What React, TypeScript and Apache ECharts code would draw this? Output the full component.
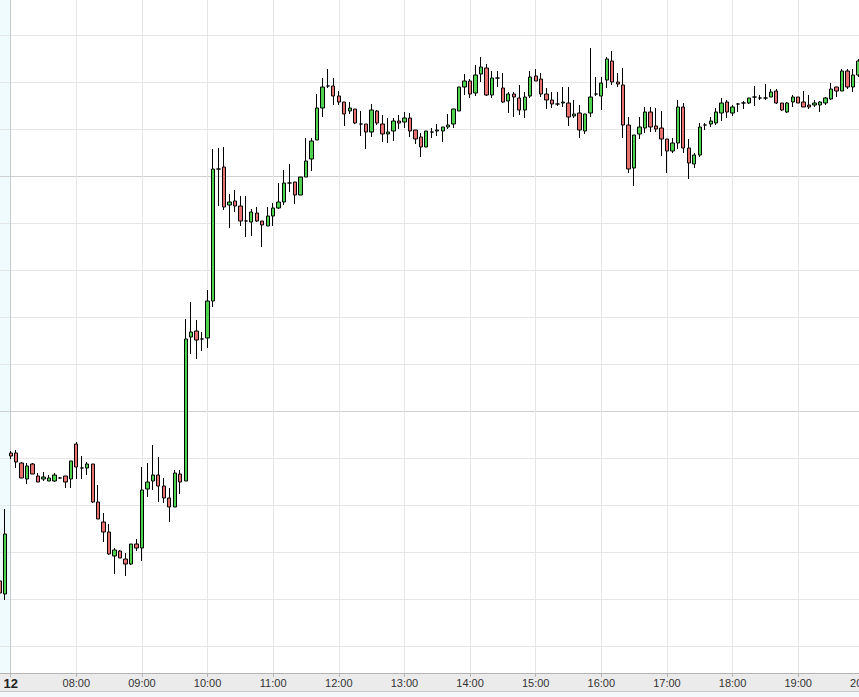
import { useEffect, useRef } from "react"
import * as echarts from "echarts"

// 5-minute candles: [time, open, close, low, high]
const prevSession: [string, number, number, number, number][] = [
  ["06:50", 41.9, 40.7, 40.5, 42.1],
  ["06:55", 40.6, 46.6, 40.0, 49.1],
]

const candles: [string, number, number, number, number][] = [
  ["07:00", 54.7, 54.4, 54.1, 54.9],
  ["07:05", 54.7, 53.8, 53.2, 55.0],
  ["07:10", 53.7, 52.2, 52.2, 53.8],
  ["07:15", 52.1, 53.4, 51.6, 53.7],
  ["07:20", 53.6, 52.6, 52.6, 53.7],
  ["07:25", 52.4, 51.8, 51.8, 52.7],
  ["07:30", 52.1, 52.3, 51.9, 52.8],
  ["07:35", 51.9, 52.2, 51.9, 52.5],
  ["07:40", 51.9, 52.5, 51.8, 52.7],
  ["07:45", 52.2, 52.2, 52.2, 52.3],
  ["07:50", 52.4, 51.8, 51.2, 52.4],
  ["07:55", 52.1, 53.9, 51.2, 53.9],
  ["08:00", 55.6, 53.3, 52.1, 55.8],
  ["08:05", 53.2, 53.2, 52.1, 54.4],
  ["08:10", 53.2, 53.6, 52.5, 53.8],
  ["08:15", 53.6, 49.8, 49.7, 53.6],
  ["08:20", 49.8, 48.1, 48.1, 51.5],
  ["08:25", 47.8, 46.8, 45.8, 48.7],
  ["08:30", 46.8, 44.6, 44.5, 47.6],
  ["08:35", 44.4, 45.0, 42.6, 45.2],
  ["08:40", 44.9, 44.2, 44.2, 45.0],
  ["08:45", 44.1, 43.6, 42.4, 44.7],
  ["08:50", 43.6, 45.6, 43.5, 45.6],
  ["08:55", 45.6, 45.2, 44.9, 46.1],
  ["09:00", 45.2, 51.0, 43.9, 53.3],
  ["09:05", 51.1, 51.8, 50.3, 53.7],
  ["09:10", 51.9, 52.5, 51.0, 55.5],
  ["09:15", 52.5, 51.4, 49.8, 54.3],
  ["09:20", 51.4, 50.2, 49.7, 52.2],
  ["09:25", 50.2, 49.3, 47.8, 51.2],
  ["09:30", 49.3, 52.7, 49.3, 53.0],
  ["09:35", 52.6, 51.8, 50.6, 53.0],
  ["09:40", 51.9, 66.1, 51.9, 68.1],
  ["09:45", 66.3, 66.8, 64.6, 69.8],
  ["09:50", 66.9, 66.0, 64.1, 68.0],
  ["09:55", 66.1, 66.1, 64.9, 66.8],
  ["10:00", 66.2, 69.9, 65.2, 71.0],
  ["10:05", 69.9, 83.1, 69.3, 85.1],
  ["10:10", 83.1, 83.1, 79.4, 85.2],
  ["10:15", 83.3, 79.3, 79.0, 85.3],
  ["10:20", 79.5, 79.8, 77.2, 80.6],
  ["10:25", 79.9, 79.4, 78.8, 81.0],
  ["10:30", 79.4, 77.9, 77.4, 80.4],
  ["10:35", 77.9, 77.9, 76.3, 80.4],
  ["10:40", 77.8, 78.8, 76.4, 79.1],
  ["10:45", 78.7, 77.9, 77.8, 79.3],
  ["10:50", 77.9, 77.5, 75.3, 77.9],
  ["10:55", 77.4, 78.4, 77.4, 79.3],
  ["11:00", 78.4, 79.2, 77.4, 79.7],
  ["11:05", 79.2, 79.8, 79.1, 81.7],
  ["11:10", 79.8, 81.7, 79.5, 83.0],
  ["11:15", 81.7, 81.7, 80.8, 83.6],
  ["11:20", 81.8, 80.5, 79.6, 81.8],
  ["11:25", 80.5, 82.3, 80.5, 82.3],
  ["11:30", 82.3, 83.9, 82.3, 86.2],
  ["11:35", 84.1, 85.9, 82.9, 86.2],
  ["11:40", 86.0, 89.2, 86.0, 90.6],
  ["11:45", 89.2, 91.3, 88.3, 92.2],
  ["11:50", 91.4, 91.4, 91.2, 93.1],
  ["11:55", 91.4, 90.4, 89.5, 92.2],
  ["12:00", 90.4, 89.8, 89.5, 90.9],
  ["12:05", 89.8, 88.6, 87.4, 89.8],
  ["12:10", 88.9, 89.2, 88.6, 89.8],
  ["12:15", 89.1, 87.7, 87.6, 89.1],
  ["12:20", 87.6, 87.6, 86.4, 88.9],
  ["12:25", 87.6, 86.8, 85.1, 87.6],
  ["12:30", 86.8, 89.0, 86.3, 89.6],
  ["12:35", 88.9, 87.7, 87.5, 89.0],
  ["12:40", 87.6, 86.6, 85.8, 88.5],
  ["12:45", 86.6, 86.8, 85.7, 88.2],
  ["12:50", 86.9, 87.9, 85.9, 88.2],
  ["12:55", 87.9, 87.7, 87.1, 88.5],
  ["13:00", 87.8, 88.2, 87.2, 88.8],
  ["13:05", 88.2, 86.9, 86.3, 88.7],
  ["13:10", 87.0, 86.1, 85.6, 87.0],
  ["13:15", 86.3, 85.3, 84.3, 86.7],
  ["13:20", 85.3, 86.9, 85.3, 86.9],
  ["13:25", 86.8, 86.8, 86.2, 87.2],
  ["13:30", 86.9, 87.0, 86.4, 87.6],
  ["13:35", 86.9, 87.3, 85.8, 87.3],
  ["13:40", 87.3, 87.5, 87.1, 88.6],
  ["13:45", 87.6, 89.1, 87.2, 89.1],
  ["13:50", 88.9, 91.3, 88.9, 91.3],
  ["13:55", 91.3, 91.9, 90.5, 92.6],
  ["14:00", 91.9, 90.6, 90.2, 92.1],
  ["14:05", 90.7, 92.5, 90.4, 93.5],
  ["14:10", 92.6, 93.3, 91.8, 94.3],
  ["14:15", 93.2, 90.5, 90.4, 93.6],
  ["14:20", 90.5, 92.2, 90.2, 92.9],
  ["14:25", 92.2, 92.2, 91.3, 92.9],
  ["14:30", 91.2, 89.8, 89.7, 92.7],
  ["14:35", 89.9, 90.6, 88.7, 90.8],
  ["14:40", 90.6, 90.3, 88.3, 90.8],
  ["14:45", 90.2, 89.0, 88.5, 91.5],
  ["14:50", 89.0, 90.3, 88.2, 90.8],
  ["14:55", 90.4, 92.3, 90.2, 92.9],
  ["15:00", 92.4, 91.9, 91.9, 93.1],
  ["15:05", 92.1, 90.6, 90.3, 92.7],
  ["15:10", 90.6, 90.0, 89.1, 91.2],
  ["15:15", 90.0, 89.6, 89.2, 90.8],
  ["15:20", 89.6, 89.6, 89.4, 90.8],
  ["15:25", 89.7, 89.8, 89.3, 91.3],
  ["15:30", 89.7, 88.3, 87.4, 91.3],
  ["15:35", 88.4, 88.6, 88.2, 90.0],
  ["15:40", 88.7, 87.0, 86.2, 89.5],
  ["15:45", 86.9, 88.6, 86.6, 88.6],
  ["15:50", 88.7, 90.3, 88.3, 95.2],
  ["15:55", 90.6, 90.6, 90.4, 92.3],
  ["16:00", 90.4, 91.7, 89.0, 92.3],
  ["16:05", 92.0, 94.1, 91.2, 94.3],
  ["16:10", 93.9, 91.8, 91.5, 94.9],
  ["16:15", 91.8, 91.6, 91.3, 92.7],
  ["16:20", 91.5, 87.5, 86.2, 93.2],
  ["16:25", 87.5, 83.1, 82.7, 88.3],
  ["16:30", 83.2, 86.5, 81.4, 86.5],
  ["16:35", 86.6, 87.3, 86.1, 88.3],
  ["16:40", 87.2, 88.8, 86.7, 89.3],
  ["16:45", 88.8, 87.3, 86.8, 89.3],
  ["16:50", 87.4, 87.1, 86.8, 89.2],
  ["16:55", 87.2, 86.1, 84.4, 88.9],
  ["17:00", 86.1, 84.9, 82.7, 86.1],
  ["17:05", 84.9, 85.7, 84.7, 86.2],
  ["17:10", 85.7, 89.3, 85.1, 90.0],
  ["17:15", 89.3, 85.2, 84.7, 89.7],
  ["17:20", 85.2, 83.7, 82.1, 86.1],
  ["17:25", 83.6, 84.5, 83.2, 84.7],
  ["17:30", 84.5, 87.3, 84.3, 87.7],
  ["17:35", 87.5, 87.5, 87.0, 87.7],
  ["17:40", 87.6, 87.9, 87.3, 88.3],
  ["17:45", 87.7, 88.8, 87.5, 89.2],
  ["17:50", 88.7, 89.7, 87.9, 90.2],
  ["17:55", 89.8, 88.8, 88.2, 90.0],
  ["18:00", 88.7, 89.3, 88.4, 89.5],
  ["18:05", 89.6, 89.6, 88.8, 89.7],
  ["18:10", 89.7, 89.7, 89.1, 89.9],
  ["18:15", 89.7, 90.2, 89.6, 90.2],
  ["18:20", 90.3, 90.3, 89.4, 91.4],
  ["18:25", 90.2, 90.2, 90.0, 90.5],
  ["18:30", 90.2, 90.2, 90.0, 91.6],
  ["18:35", 90.3, 90.8, 90.3, 91.1],
  ["18:40", 90.9, 89.7, 89.6, 91.1],
  ["18:45", 89.7, 89.0, 88.9, 89.7],
  ["18:50", 88.8, 89.7, 88.7, 89.8],
  ["18:55", 89.8, 90.3, 89.3, 90.5],
  ["19:00", 90.3, 89.7, 89.7, 90.3],
  ["19:05", 89.8, 89.3, 89.3, 90.9],
  ["19:10", 89.5, 89.3, 89.1, 90.5],
  ["19:15", 89.5, 89.7, 89.3, 90.0],
  ["19:20", 89.5, 89.8, 88.8, 89.9],
  ["19:25", 89.7, 90.2, 89.5, 90.3],
  ["19:30", 90.1, 91.1, 90.0, 91.7],
  ["19:35", 91.3, 90.9, 90.3, 91.3],
  ["19:40", 90.9, 92.9, 90.9, 93.1],
  ["19:45", 92.9, 91.3, 91.1, 93.1],
  ["19:50", 91.3, 92.5, 90.8, 93.1],
  ["19:55", 92.5, 93.9, 92.3, 94.1],
]

// empty slots after the last candle
const tailTimes = ["20:00", "20:05"]

const sessionStart = "07:00"
const dayLabel = "12"

// horizontal grid levels (major ones drawn darker)
const gridLevels = [96.5, 91.8, 87.1, 82.4, 77.7, 73.0, 68.3, 63.6, 58.9, 54.2, 49.5, 44.8, 40.1, 35.4]
const majorLevels = [82.4, 58.9]

const priceMin = 32.7
const priceMax = 100

export default function App() {
  const chartRef = useRef<HTMLDivElement>(null)

  useEffect(() => {
    if (!chartRef.current) return
    const chart = echarts.init(chartRef.current, null, { renderer: "svg" })

    const rows = [...prevSession, ...candles]
    const categories = [...rows.map(r => r[0]), ...tailTimes]
    const isHour = (_: number, v: string) => v.endsWith(":00")
    const hours = categories.filter(v => v.endsWith(":00"))

    const option = {
      animation: false,
      backgroundColor: "#ffffff",
      grid: { left: -3, right: -13, top: 0, bottom: 24, containLabel: false, outerBoundsMode: "none" },
      xAxis: {
        type: "category",
        data: categories,
        boundaryGap: true,
        axisLine: { lineStyle: { color: "#b4b4b4", width: 1 } },
        axisTick: {
          show: true,
          alignWithLabel: true,
          interval: isHour,
          length: 4,
          lineStyle: { color: "#b4b4b4" },
        },
        axisLabel: {
          interval: isHour,
          margin: 4,
          color: "#333333",
          fontSize: 11,
          fontFamily: "Liberation Sans, Arial, sans-serif",
          formatter: (v: string) => (v === sessionStart ? `{day|${dayLabel}}` : v),
          rich: {
            day: { fontWeight: "bold", fontSize: 13, color: "#222222", fontFamily: "Liberation Sans, Arial, sans-serif" },
          },
        },
        splitLine: { show: false },
      },
      yAxis: { type: "value", min: priceMin, max: priceMax, show: false },
      graphic: [
        { type: "rect", z: -1, shape: { x: 0, y: 673, width: 859, height: 18 }, style: { fill: "#ebebeb" } },
        { type: "rect", z: -1, shape: { x: 0, y: 691, width: 859, height: 6 }, style: { fill: "#f5f8fa" } },
        { type: "line", z: -1, shape: { x1: 0, y1: 691.5, x2: 859, y2: 691.5 }, style: { stroke: "#c8c8c8", lineWidth: 1 } },
      ],
      series: [
        {
          type: "candlestick",
          data: rows.map(r => [r[1], r[2], r[3], r[4]]),
          barWidth: 3.8,
          itemStyle: {
            color: "#4ed34e",
            color0: "#e8706f",
            borderColor: "#000000",
            borderColor0: "#000000",
            borderColorDoji: "#000000",
            borderWidth: 1,
          },
          markArea: {
            silent: true,
            z: 0,
            itemStyle: { color: "#effbfc" },
            data: [[{ xAxis: categories[0] }, { xAxis: sessionStart }]],
          },
          markLine: {
            silent: true,
            z: 1,
            symbol: ["none", "none"],
            label: { show: false },
            lineStyle: { type: "solid", width: 1, color: "#e6e6e6" },
            data: [
              ...gridLevels.map(v => ({
                yAxis: v,
                lineStyle: { type: "solid", width: 1, color: majorLevels.includes(v) ? "#cfcfcf" : "#e6e6e6" },
              })),
              ...hours.map(h => ({
                xAxis: h,
                lineStyle: { type: "solid", width: 1, color: h === sessionStart ? "#c8c8c8" : "#e6e6e6" },
              })),
            ],
          },
        },
      ],
    }

    chart.setOption(option)

    return () => {
      chart.dispose()
    }
  }, [])

  return (
    <div
      ref={chartRef}
      style={{ position: "fixed", left: 0, top: 0, width: "859px", height: "697px" }}
    />
  )
}
